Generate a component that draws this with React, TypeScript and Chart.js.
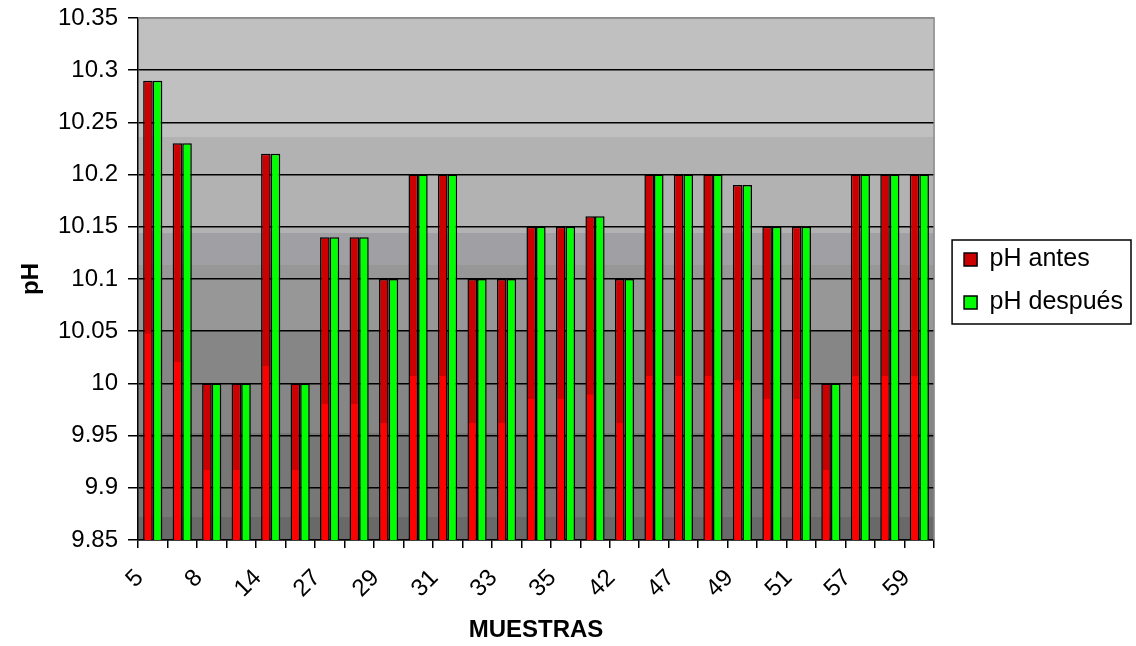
import React, { useEffect, useRef } from 'react';
import { Chart, registerables } from 'chart.js';

Chart.register(...registerables);

// ---- data ----
const categories: string[] = [
  '5', '', '8', '', '14', '', '27', '', '29', '', '31', '', '33', '', '35', '',
  '42', '', '47', '', '49', '', '51', '', '57', '', '59',
];
const phAntes: number[] = [
  10.29, 10.23, 10.0, 10.0, 10.22, 10.0, 10.14, 10.14, 10.1, 10.2, 10.2, 10.1, 10.1, 10.15,
  10.15, 10.16, 10.1, 10.2, 10.2, 10.2, 10.19, 10.15, 10.15, 10.0, 10.2, 10.2, 10.2,
];
const phDespues: number[] = [
  10.29, 10.23, 10.0, 10.0, 10.22, 10.0, 10.14, 10.14, 10.1, 10.2, 10.2, 10.1, 10.1, 10.15,
  10.15, 10.16, 10.1, 10.2, 10.2, 10.2, 10.19, 10.15, 10.15, 10.0, 10.2, 10.2, 10.2,
];
const seriesNames: string[] = ['pH antes', 'pH después'];
const yMin = 9.85;
const yMax = 10.35;
const yStep = 0.05;
const xTitle = 'MUESTRAS';
const yTitle = 'pH';

// ---- styles ----
const FONT = "'Liberation Sans', Arial, sans-serif";
const bands: [number, string][] = [
  [0.228, '#c0c0c0'],
  [0.412, '#b2b2b2'],
  [0.473, '#a0a0a4'],
  [0.598, '#979797'],
  [0.795, '#868686'],
  [0.956, '#777777'],
  [1.0, '#696969'],
];

const bgPlugin = {
  id: 'bgBands',
  afterLayout(chart: any) {
    const lg = chart.legend;
    const a = chart.chartArea;
    if (!lg || !a) return;
    lg.top = a.top + 2;
    lg.bottom = a.bottom + 2;
    lg.height = lg.bottom - lg.top;
  },
  beforeDraw(chart: any) {
    const { ctx, chartArea: a } = chart;
    if (!a) return;
    const h = a.bottom - a.top;
    ctx.save();
    let prev = 0;
    for (const [end, color] of bands) {
      ctx.fillStyle = color;
      const y0 = Math.round(a.top + prev * h);
      const y1 = Math.round(a.top + end * h);
      ctx.fillRect(a.left, y0, a.right - a.left, y1 - y0);
      prev = end;
    }
    ctx.restore();
  },
  beforeDatasetsDraw(chart: any) {
    const { ctx, chartArea: a } = chart;
    ctx.save();
    ctx.strokeStyle = '#8a8a8a';
    ctx.lineWidth = 1.5;
    ctx.beginPath();
    ctx.moveTo(a.left, a.top);
    ctx.lineTo(a.right, a.top);
    ctx.lineTo(a.right, a.bottom);
    ctx.stroke();
    ctx.restore();
  },
  afterDraw(chart: any) {
    const lg = chart.legend;
    if (!lg || !lg.legendHitBoxes || !lg.legendHitBoxes.length) return;
    const hb = lg.legendHitBoxes;
    let right = 0;
    for (const b of hb) right = Math.max(right, b.left + b.width);
    const left = hb[0].left - 12;
    const top = hb[0].top - 7;
    const last = hb[hb.length - 1];
    const bottom = last.top + last.height + 9;
    const ctx = chart.ctx;
    ctx.save();
    ctx.strokeStyle = '#000';
    ctx.lineWidth = 1.5;
    ctx.strokeRect(left, top, right + 8 - left, bottom - top);
    ctx.restore();
  },
};

function redFill(c: any) {
  if (c.type !== 'data') return '#cc0000';
  const chart = c.chart;
  const ys = chart.scales && chart.scales.y;
  if (!ys || !chart.chartArea) return '#cc0000';
  const top = ys.getPixelForValue(c.raw);
  const bot = ys.getPixelForValue(yMin);
  if (!isFinite(top) || !isFinite(bot) || bot - top < 1) return '#cc0000';
  const g = chart.ctx.createLinearGradient(0, top, 0, bot);
  g.addColorStop(0, '#cc0000');
  g.addColorStop(0.55, '#cc0000');
  g.addColorStop(0.551, '#ff0000');
  g.addColorStop(1, '#ff0000');
  return g;
}

export default function App() {
  const ref = useRef<HTMLCanvasElement>(null);
  useEffect(() => {
    if (!ref.current) return;
    const chart = new Chart(ref.current, {
      type: 'bar',
      data: {
        labels: categories,
        datasets: [
          {
            label: seriesNames[0],
            data: phAntes,
            backgroundColor: redFill as any,
            borderColor: '#000',
            borderWidth: 1.5,
            categoryPercentage: 0.65,
            barPercentage: 1.0,
          },
          {
            label: seriesNames[1],
            data: phDespues,
            backgroundColor: '#00ff00',
            borderColor: '#000',
            borderWidth: 1.5,
            categoryPercentage: 0.65,
            barPercentage: 1.0,
          },
        ],
      },
      plugins: [bgPlugin],
      options: {
        animation: false,
        responsive: true,
        maintainAspectRatio: false,
        layout: { padding: { top: 18, right: 3, bottom: 0, left: 0 } },
        plugins: {
          tooltip: { enabled: false },
          legend: {
            position: 'right',
            labels: {
              boxWidth: 13,
              boxHeight: 13,
              padding: 18,
              color: '#000',
              font: { family: FONT, size: 25 },
            },
          },
        },
        scales: {
          x: {
            grid: {
              drawOnChartArea: false,
              drawTicks: true,
              offset: true,
              tickLength: 8,
              color: '#000',
              lineWidth: 1.5,
            },
            border: { color: '#000', width: 1.5 },
            ticks: {
              autoSkip: false,
              minRotation: 45,
              maxRotation: 45,
              padding: 16,
              labelOffset: -13,
              color: '#000',
              font: { family: FONT, size: 24 },
            },
            title: {
              display: true,
              text: xTitle,
              color: '#000',
              font: { family: FONT, size: 24, weight: 'bold' },
              padding: { top: 0, bottom: 1 },
            },
            afterFit: (s: any) => {
              s.height = 106;
            },
          },
          y: {
            min: yMin,
            max: yMax,
            grid: {
              color: (c: any) => (Math.abs(c.tick.value - yMax) < 1e-6 ? '#8a8a8a' : '#000'),
              tickColor: '#000',
              lineWidth: 1.5,
              tickLength: 10,
            },
            border: { color: '#000', width: 1.5 },
            ticks: {
              stepSize: yStep,
              padding: 10,
              color: '#000',
              font: { family: FONT, size: 24 },
              callback: (v: any) => String(parseFloat(Number(v).toFixed(2))),
            },
            title: {
              display: true,
              text: yTitle,
              color: '#000',
              font: { family: FONT, size: 24, weight: 'bold' },
              padding: { top: 17, bottom: 0 },
            },
            afterFit: (s: any) => {
              s.width = 138;
              s.paddingTop = 0;
              s.paddingBottom = 0;
            },
          },
          y2: {
            position: 'right',
            display: true,
            grid: { display: false, drawTicks: false },
            border: { display: false },
            ticks: { display: false },
            afterFit: (s: any) => {
              s.width = 12;
              s.paddingTop = 0;
              s.paddingBottom = 0;
            },
          },
        },
      } as any,
    });
    return () => chart.destroy();
  }, []);
  return (
    <div style={{ position: 'absolute', left: 0, top: 0, width: 1136, height: 646, background: '#fff' }}>
      <canvas ref={ref} />
    </div>
  );
}
